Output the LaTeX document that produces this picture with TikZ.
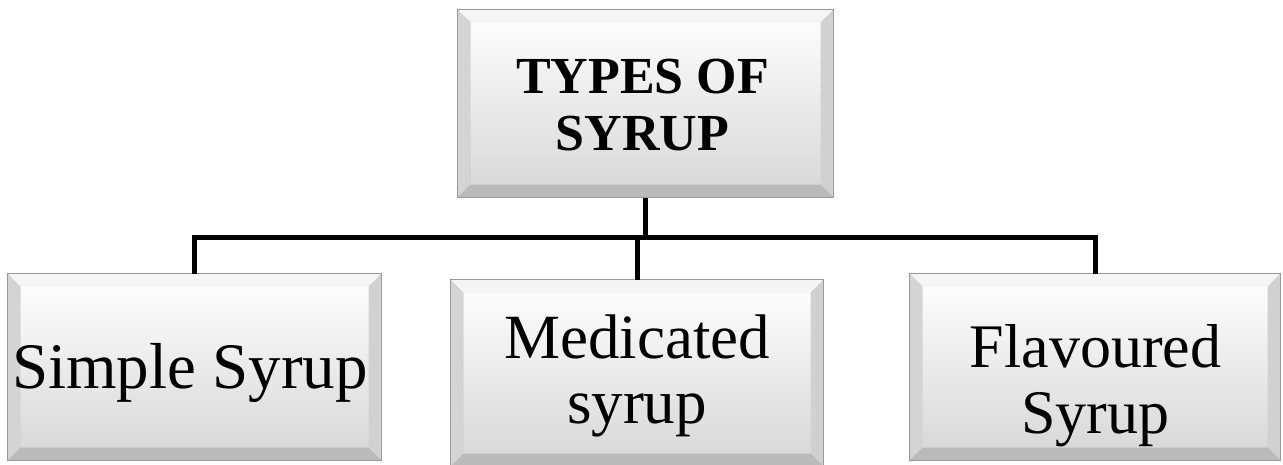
\documentclass[tikz,border=0pt]{standalone}
\usepackage{fontspec}
\setmainfont{Liberation Serif}
\tikzset{
  boxface/.style={draw=black!40, line width=1pt, top color=white, bottom color=black!16, inner sep=0pt},
  boxtext/.style={align=center, inner sep=0pt, text=black, anchor=base},
  conn/.style={line width=5pt, draw=black},
}
\newcommand\bevelfaces[1]{%
  \fill[black!4] (#1.north west) -- (#1.north east) -- ([shift={(-13,13)}]#1.north east) -- ([shift={(13,13)}]#1.north west) -- cycle;
  \fill[black!17] (#1.north west) -- ([shift={(13,13)}]#1.north west) -- ([shift={(13,-13)}]#1.south west) -- (#1.south west) -- cycle;
  \fill[black!18] (#1.north east) -- ([shift={(-13,13)}]#1.north east) -- ([shift={(-13,-13)}]#1.south east) -- (#1.south east) -- cycle;
  \fill[black!27] (#1.south west) -- ([shift={(13,-13)}]#1.south west) -- ([shift={(-13,-13)}]#1.south east) -- (#1.south east) -- cycle;
  \draw[black!40, line width=1pt] (#1.north west) rectangle (#1.south east);
}
\begin{document}
\begin{tikzpicture}[x=1pt,y=-1pt]
\useasboundingbox (0,0) rectangle (1283,464);
\fill[white] (0,0) rectangle (1283,464);
% boxes
\node[boxface, minimum width=375pt, minimum height=187pt] (top) at (645.5,103.5) {};
\node[boxface, minimum width=373pt, minimum height=186pt] (simple) at (194.5,367) {};
\node[boxface, minimum width=372pt, minimum height=186pt] (med) at (637,373) {};
\node[boxface, minimum width=370pt, minimum height=186pt] (flav) at (1095,367) {};
\bevelfaces{top}
\bevelfaces{simple}
\bevelfaces{med}
\bevelfaces{flav}
% connectors
\coordinate (bus) at (640,237);
\draw[conn] (top.south) -- (top.south |- bus);
\draw[conn] (simple.north) -- (simple.north |- bus) -- (flav.north |- bus) -- (flav.north);
\draw[conn] (med.north) -- (med.north |- bus);
% texts
\node[boxtext, font=\bfseries\fontsize{52}{57}\selectfont] (ttop) at (642.5,150) {TYPES OF\\SYRUP};
\node[boxtext, font=\fontsize{65}{70}\selectfont] (tsimple) at (190,388) {Simple Syrup};
\node[boxtext, font=\fontsize{63}{65}\selectfont] (tmed) at (637,423) {Medicated\\syrup};
\node[boxtext, font=\fontsize{62}{66}\selectfont] (tflav) at (1095.5,433) {Flavoured\\Syrup};
\end{tikzpicture}
\end{document}
